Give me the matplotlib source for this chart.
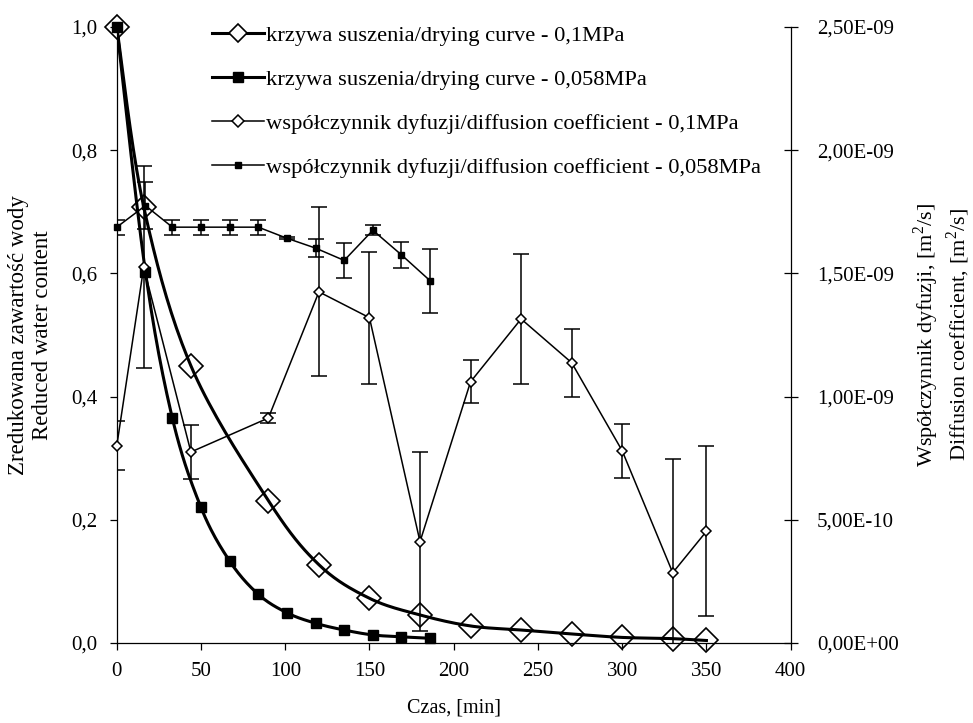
import numpy as np
import matplotlib
matplotlib.use("Agg")
import matplotlib.pyplot as plt
from matplotlib.ticker import FuncFormatter

plt.rcParams["font.family"] = ["Liberation Serif", "DejaVu Serif"]
plt.rcParams["font.size"] = 15
plt.rcParams["mathtext.fontset"] = "custom"
plt.rcParams["mathtext.rm"] = "Liberation Serif"

# drying curves: reduced water content vs time [min]
t_dry_01 = [0, 16, 44, 90, 120, 150, 180, 210, 240, 270, 300, 330, 350]
mr_01 = [1.0, 0.708, 0.45, 0.231, 0.127, 0.0725, 0.0455, 0.0276, 0.021,
         0.0146, 0.009, 0.007, 0.004]
t_dry_058 = [0, 17, 33, 50, 67, 84, 101, 118, 135, 152, 169, 186]
mr_058 = [1.0, 0.603, 0.365, 0.22, 0.133, 0.079, 0.049, 0.032, 0.021,
          0.013, 0.010, 0.0076]

# diffusion coefficients [m2/s] with standard deviations
t_dif_01 = [0, 16, 44, 90, 120, 150, 180, 210, 240, 270, 300, 330, 350]
d_01 = [8.0e-10, 1.525e-9, 7.75e-10, 9.13e-10, 1.425e-9, 1.32e-9, 4.11e-10,
        1.06e-9, 1.315e-9, 1.1375e-9, 7.8e-10, 2.85e-10, 4.53e-10]
d_01_sd = [1.0e-10, 4.1e-10, 1.08e-10, 2.0e-11, 3.43e-10, 2.68e-10, 3.63e-10,
           8.8e-11, 2.63e-10, 1.38e-10, 1.1e-10, 4.63e-10, 3.45e-10]
t_dif_058 = [0, 17, 33, 50, 67, 84, 101, 118, 135, 152, 169, 186]
d_058 = [1.6875e-9, 1.775e-9, 1.6875e-9, 1.6875e-9, 1.6875e-9, 1.6875e-9,
         1.6425e-9, 1.6025e-9, 1.5525e-9, 1.675e-9, 1.575e-9, 1.47e-9]
d_058_sd = [3.0e-11, 9.5e-11, 3.0e-11, 3.0e-11, 3.0e-11, 3.0e-11,
            5.0e-12, 3.5e-11, 7.0e-11, 2.0e-11, 5.25e-11, 1.3e-10]

labels = [
    "krzywa suszenia/drying curve - 0,1MPa",
    "krzywa suszenia/drying curve - 0,058MPa",
    "współczynnik dyfuzji/diffusion coefficient - 0,1MPa",
    "współczynnik dyfuzji/diffusion coefficient - 0,058MPa",
]


def smooth(x, y, n=20):
    """Bezier smoothing through the points (spreadsheet style smoothed line)."""
    p = np.column_stack([x, y]).astype(float)
    pts = [p[0]]
    t = np.linspace(0, 1, n + 1)[1:, None]
    for i in range(len(p) - 1):
        p0 = p[i - 1] if i > 0 else p[i]
        p1, p2 = p[i], p[i + 1]
        p3 = p[i + 2] if i + 2 < len(p) else p[i + 1]
        c1 = p1 + (p2 - p0) / 6
        c2 = p2 - (p3 - p1) / 6
        seg = ((1 - t) ** 3 * p1 + 3 * (1 - t) ** 2 * t * c1
               + 3 * (1 - t) * t ** 2 * c2 + t ** 3 * p2)
        pts.extend(seg)
    pts = np.array(pts)
    return pts[:, 0], pts[:, 1]


fig = plt.figure(figsize=(9.73, 7.23), dpi=100)
ax = fig.add_axes([0.12, 0.1107, 0.6926, 0.852])
ax2 = ax.twinx()

# drying curves on the left axis
sx, sy = smooth(t_dry_01, mr_01)
ax.plot(sx, sy, color="black", lw=2.2, zorder=2)
ax.plot(t_dry_01, mr_01, ls="none", marker="D", ms=12, mfc="none",
        mec="black", mew=1.2, zorder=3, clip_on=False)
sx, sy = smooth(t_dry_058, mr_058)
ax.plot(sx, sy, color="black", lw=2.2, zorder=2)
ax.plot(t_dry_058, mr_058, ls="none", marker="s", ms=6.8, mfc="black",
        mec="black", zorder=3, clip_on=False)

# diffusion coefficients on the right axis
ax2.errorbar(t_dif_01, d_01, yerr=d_01_sd, fmt="none", ecolor="black",
             elinewidth=1.1, capsize=5.5, capthick=1.1)
ax2.plot(t_dif_01, d_01, color="black", lw=1.1, marker="D", ms=5.2,
         mfc="white", mec="black", mew=1.1, clip_on=False)
ax2.errorbar(t_dif_058, d_058, yerr=d_058_sd, fmt="none", ecolor="black",
             elinewidth=1.1, capsize=5.5, capthick=1.1)
ax2.plot(t_dif_058, d_058, color="black", lw=1.1, marker="s", ms=4.8,
         mfc="black", mec="black", clip_on=False)

ax.set_xlim(0, 400)
ax.set_ylim(0, 1.0)
ax2.set_ylim(0, 2.5e-9)
ax.set_xticks(np.arange(0, 401, 50))
ax.set_yticks(np.arange(0, 1.01, 0.2))
ax2.set_yticks(np.arange(0, 2.51e-9, 5e-10))
ax.yaxis.set_major_formatter(FuncFormatter(lambda v, p: f"{v:.1f}".replace(".", ",")))
ax2.yaxis.set_major_formatter(FuncFormatter(lambda v, p: f"{v:.2E}".replace(".", ",")))

for s in ["top", "right"]:
    ax.spines[s].set_visible(False)
for s in ["top", "left", "bottom"]:
    ax2.spines[s].set_visible(False)
for sp in list(ax.spines.values()) + list(ax2.spines.values()):
    sp.set_linewidth(0.9)

ax.tick_params(axis="x", direction="out", length=5, width=0.9, pad=9)
ax.tick_params(axis="y", direction="out", length=5, width=0.9, pad=9)
ax2.tick_params(axis="y", direction="inout", length=10, width=0.9, pad=14)

ax.text(-0.128, 0.5, "Zredukowana zawartość wody\nReduced water content",
        transform=ax.transAxes, rotation=90, ha="center", va="center",
        multialignment="center", linespacing=1.2, fontsize=16.5)
ax.text(1.224, 0.5,
        "Współczynnik dyfuzji, [m$^2$/s]\nDiffusion coefficient, [m$^2$/s]",
        transform=ax.transAxes, rotation=90, ha="center", va="center",
        multialignment="center", linespacing=1.2, fontsize=16)
ax.text(0.5, -0.1055, "Czas, [min]", transform=ax.transAxes,
        ha="center", va="center", fontsize=14.5)

# legend built from plain line handles (no error bars)
handles = [
    plt.Line2D([], [], color="black", lw=2.2, marker="D", ms=9, mfc="white", mec="black", mew=1.2),
    plt.Line2D([], [], color="black", lw=2.2, marker="s", ms=7, mfc="black", mec="black"),
    plt.Line2D([], [], color="black", lw=1.1, marker="D", ms=6, mfc="white", mec="black", mew=1.1),
    plt.Line2D([], [], color="black", lw=1.1, marker="s", ms=4.5, mfc="black", mec="black"),
]
ax2.legend(handles, labels, loc="upper left", bbox_to_anchor=(0.141, 1.003),
           frameon=False, borderpad=0, borderaxespad=0, handlelength=2.3,
           handletextpad=0.1, labelspacing=1.03, fontsize=16.2)

fig.savefig("out.png", dpi=100)
